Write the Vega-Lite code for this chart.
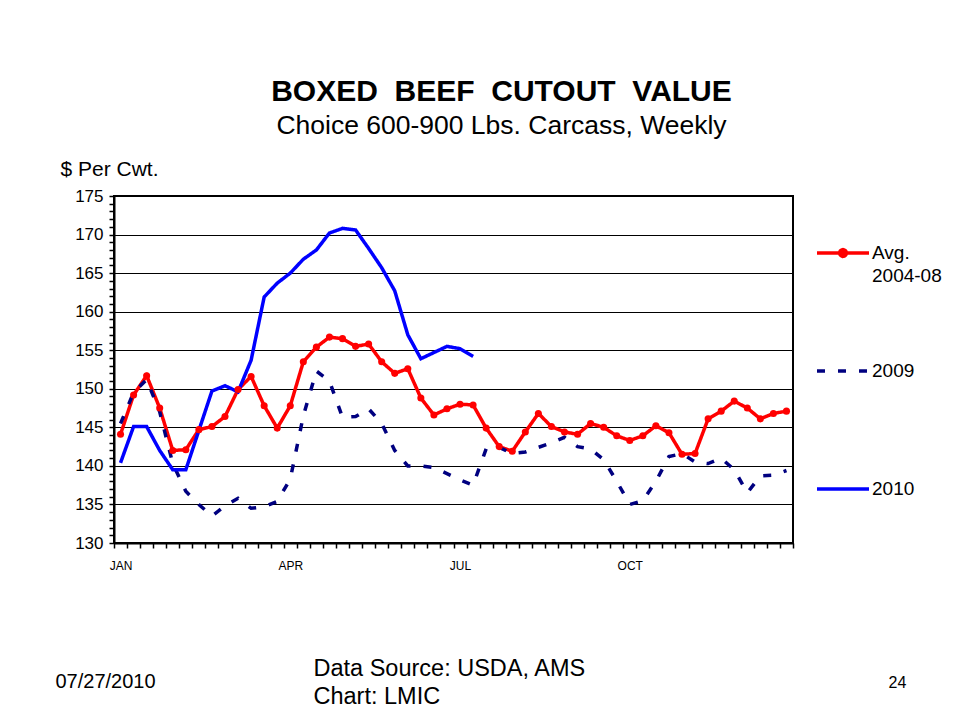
{
  "$schema": "https://vega.github.io/schema/vega-lite/v6.json",
  "width": 679,
  "height": 347,
  "autosize": {"type": "none"},
  "padding": {"left": 114, "top": 196, "right": 160, "bottom": 178},
  "background": "white",
  "config": {
    "view": {"stroke": "black", "strokeWidth": 2},
    "font": "Liberation Sans"
  },
  "title": {
    "text": "BOXED\u00a0 BEEF\u00a0 CUTOUT\u00a0 VALUE",
    "subtitle": "Choice 600-900 Lbs. Carcass, Weekly",
    "anchor": "middle",
    "dx": 48,
    "font": "Liberation Sans",
    "fontSize": 30,
    "fontWeight": "bold",
    "color": "black",
    "subtitleFont": "Liberation Sans",
    "subtitleFontSize": 26.5,
    "subtitleColor": "black",
    "subtitlePadding": 6,
    "offset": 19
  },
  "data": {
    "values": [
      {"series": "Avg. 2004-08", "week": 1, "value": 144.1},
      {"series": "Avg. 2004-08", "week": 2, "value": 149.2},
      {"series": "Avg. 2004-08", "week": 3, "value": 151.7},
      {"series": "Avg. 2004-08", "week": 4, "value": 147.5},
      {"series": "Avg. 2004-08", "week": 5, "value": 142.0},
      {"series": "Avg. 2004-08", "week": 6, "value": 142.1},
      {"series": "Avg. 2004-08", "week": 7, "value": 144.7},
      {"series": "Avg. 2004-08", "week": 8, "value": 145.1},
      {"series": "Avg. 2004-08", "week": 9, "value": 146.4},
      {"series": "Avg. 2004-08", "week": 10, "value": 149.9},
      {"series": "Avg. 2004-08", "week": 11, "value": 151.6},
      {"series": "Avg. 2004-08", "week": 12, "value": 147.8},
      {"series": "Avg. 2004-08", "week": 13, "value": 144.9},
      {"series": "Avg. 2004-08", "week": 14, "value": 147.8},
      {"series": "Avg. 2004-08", "week": 15, "value": 153.5},
      {"series": "Avg. 2004-08", "week": 16, "value": 155.4},
      {"series": "Avg. 2004-08", "week": 17, "value": 156.7},
      {"series": "Avg. 2004-08", "week": 18, "value": 156.5},
      {"series": "Avg. 2004-08", "week": 19, "value": 155.5},
      {"series": "Avg. 2004-08", "week": 20, "value": 155.8},
      {"series": "Avg. 2004-08", "week": 21, "value": 153.5},
      {"series": "Avg. 2004-08", "week": 22, "value": 152.0},
      {"series": "Avg. 2004-08", "week": 23, "value": 152.6},
      {"series": "Avg. 2004-08", "week": 24, "value": 148.8},
      {"series": "Avg. 2004-08", "week": 25, "value": 146.6},
      {"series": "Avg. 2004-08", "week": 26, "value": 147.4},
      {"series": "Avg. 2004-08", "week": 27, "value": 148.0},
      {"series": "Avg. 2004-08", "week": 28, "value": 147.9},
      {"series": "Avg. 2004-08", "week": 29, "value": 144.9},
      {"series": "Avg. 2004-08", "week": 30, "value": 142.5},
      {"series": "Avg. 2004-08", "week": 31, "value": 141.9},
      {"series": "Avg. 2004-08", "week": 32, "value": 144.4},
      {"series": "Avg. 2004-08", "week": 33, "value": 146.8},
      {"series": "Avg. 2004-08", "week": 34, "value": 145.1},
      {"series": "Avg. 2004-08", "week": 35, "value": 144.4},
      {"series": "Avg. 2004-08", "week": 36, "value": 144.1},
      {"series": "Avg. 2004-08", "week": 37, "value": 145.5},
      {"series": "Avg. 2004-08", "week": 38, "value": 145.0},
      {"series": "Avg. 2004-08", "week": 39, "value": 143.9},
      {"series": "Avg. 2004-08", "week": 40, "value": 143.3},
      {"series": "Avg. 2004-08", "week": 41, "value": 143.9},
      {"series": "Avg. 2004-08", "week": 42, "value": 145.2},
      {"series": "Avg. 2004-08", "week": 43, "value": 144.3},
      {"series": "Avg. 2004-08", "week": 44, "value": 141.5},
      {"series": "Avg. 2004-08", "week": 45, "value": 141.6},
      {"series": "Avg. 2004-08", "week": 46, "value": 146.1},
      {"series": "Avg. 2004-08", "week": 47, "value": 147.1},
      {"series": "Avg. 2004-08", "week": 48, "value": 148.4},
      {"series": "Avg. 2004-08", "week": 49, "value": 147.5},
      {"series": "Avg. 2004-08", "week": 50, "value": 146.1},
      {"series": "Avg. 2004-08", "week": 51, "value": 146.8},
      {"series": "Avg. 2004-08", "week": 52, "value": 147.1},
      {"series": "2009", "week": 1, "value": 145.5},
      {"series": "2009", "week": 2, "value": 149.5},
      {"series": "2009", "week": 3, "value": 151.2},
      {"series": "2009", "week": 4, "value": 147.0},
      {"series": "2009", "week": 5, "value": 140.3},
      {"series": "2009", "week": 6, "value": 136.7},
      {"series": "2009", "week": 7, "value": 135.0},
      {"series": "2009", "week": 8, "value": 133.5},
      {"series": "2009", "week": 9, "value": 134.8},
      {"series": "2009", "week": 10, "value": 135.8},
      {"series": "2009", "week": 11, "value": 134.5},
      {"series": "2009", "week": 12, "value": 134.7},
      {"series": "2009", "week": 13, "value": 135.4},
      {"series": "2009", "week": 14, "value": 138.3},
      {"series": "2009", "week": 15, "value": 146.5},
      {"series": "2009", "week": 16, "value": 152.3},
      {"series": "2009", "week": 17, "value": 151.0},
      {"series": "2009", "week": 18, "value": 146.3},
      {"series": "2009", "week": 19, "value": 146.4},
      {"series": "2009", "week": 20, "value": 147.4},
      {"series": "2009", "week": 21, "value": 145.5},
      {"series": "2009", "week": 22, "value": 142.0},
      {"series": "2009", "week": 23, "value": 140.0},
      {"series": "2009", "week": 24, "value": 140.0},
      {"series": "2009", "week": 25, "value": 139.8},
      {"series": "2009", "week": 26, "value": 139.0},
      {"series": "2009", "week": 27, "value": 138.2},
      {"series": "2009", "week": 28, "value": 137.5},
      {"series": "2009", "week": 29, "value": 142.2},
      {"series": "2009", "week": 30, "value": 142.4},
      {"series": "2009", "week": 31, "value": 141.6},
      {"series": "2009", "week": 32, "value": 141.8},
      {"series": "2009", "week": 33, "value": 142.4},
      {"series": "2009", "week": 34, "value": 143.0},
      {"series": "2009", "week": 35, "value": 143.7},
      {"series": "2009", "week": 36, "value": 142.5},
      {"series": "2009", "week": 37, "value": 142.2},
      {"series": "2009", "week": 38, "value": 140.8},
      {"series": "2009", "week": 39, "value": 138.0},
      {"series": "2009", "week": 40, "value": 135.0},
      {"series": "2009", "week": 41, "value": 135.5},
      {"series": "2009", "week": 42, "value": 138.0},
      {"series": "2009", "week": 43, "value": 141.2},
      {"series": "2009", "week": 44, "value": 141.6},
      {"series": "2009", "week": 45, "value": 140.5},
      {"series": "2009", "week": 46, "value": 140.3},
      {"series": "2009", "week": 47, "value": 141.0},
      {"series": "2009", "week": 48, "value": 139.5},
      {"series": "2009", "week": 49, "value": 136.5},
      {"series": "2009", "week": 50, "value": 138.7},
      {"series": "2009", "week": 51, "value": 138.8},
      {"series": "2009", "week": 52, "value": 139.4},
      {"series": "2010", "week": 1, "value": 140.4},
      {"series": "2010", "week": 2, "value": 145.1},
      {"series": "2010", "week": 3, "value": 145.1},
      {"series": "2010", "week": 4, "value": 142.0},
      {"series": "2010", "week": 5, "value": 139.5},
      {"series": "2010", "week": 6, "value": 139.5},
      {"series": "2010", "week": 7, "value": 144.6},
      {"series": "2010", "week": 8, "value": 149.7},
      {"series": "2010", "week": 9, "value": 150.4},
      {"series": "2010", "week": 10, "value": 149.6},
      {"series": "2010", "week": 11, "value": 153.7},
      {"series": "2010", "week": 12, "value": 161.9},
      {"series": "2010", "week": 13, "value": 163.7},
      {"series": "2010", "week": 14, "value": 165.0},
      {"series": "2010", "week": 15, "value": 166.8},
      {"series": "2010", "week": 16, "value": 168.0},
      {"series": "2010", "week": 17, "value": 170.2},
      {"series": "2010", "week": 18, "value": 170.8},
      {"series": "2010", "week": 19, "value": 170.6},
      {"series": "2010", "week": 20, "value": 168.2},
      {"series": "2010", "week": 21, "value": 165.7},
      {"series": "2010", "week": 22, "value": 162.7},
      {"series": "2010", "week": 23, "value": 157.0},
      {"series": "2010", "week": 24, "value": 153.9},
      {"series": "2010", "week": 25, "value": 154.7},
      {"series": "2010", "week": 26, "value": 155.5},
      {"series": "2010", "week": 27, "value": 155.2},
      {"series": "2010", "week": 28, "value": 154.2}
    ]
  },
  "resolve": {"axis": {"x": "independent", "y": "independent"}},
  "layer": [
    {
      "mark": {"type": "line", "strokeWidth": 3.5},
      "encoding": {
        "x": {
          "field": "week", "type": "quantitative",
          "scale": {"domain": [0.5, 52.5], "nice": false, "zero": false},
          "axis": {
            "orient": "bottom",
            "values": [0.5,1.5,2.5,3.5,4.5,5.5,6.5,7.5,8.5,9.5,10.5,11.5,12.5,13.5,14.5,15.5,16.5,17.5,18.5,19.5,20.5,21.5,22.5,23.5,24.5,25.5,26.5,27.5,28.5,29.5,30.5,31.5,32.5,33.5,34.5,35.5,36.5,37.5,38.5,39.5,40.5,41.5,42.5,43.5,44.5,45.5,46.5,47.5,48.5,49.5,50.5,51.5,52.5],
            "labelExpr": "datum.value === 0.5 ? 'JAN' : datum.value === 13.5 ? 'APR' : datum.value === 26.5 ? 'JUL' : datum.value === 39.5 ? 'OCT' : ''",
            "labelOffset": 6.5,
            "labelOverlap": false,
            "labelFlush": false,
            "labelFont": "Liberation Sans",
            "labelFontSize": 12,
            "labelColor": "black",
            "labelPadding": 12,
            "labelBaseline": "top",
            "grid": false,
            "domainColor": "black",
            "domainWidth": 2,
            "tickColor": "black",
            "tickSize": 5,
            "tickWidth": 1.5,
            "title": ["Data Source: USDA, AMS", "Chart: LMIC"],
            "titleX": 199,
            "titleY": 132,
            "titleAlign": "left",
            "titleAnchor": "start",
            "titleBaseline": "alphabetic",
            "titleFont": "Liberation Sans",
            "titleFontSize": 23.5,
            "titleFontWeight": "normal",
            "titleColor": "black",
            "titleLineHeight": 28
          }
        },
        "y": {
          "field": "value", "type": "quantitative",
          "scale": {"domain": [130, 175], "nice": false, "zero": false},
          "axis": {
            "orient": "left",
            "values": [130,131,132,133,134,135,136,137,138,139,140,141,142,143,144,145,146,147,148,149,150,151,152,153,154,155,156,157,158,159,160,161,162,163,164,165,166,167,168,169,170,171,172,173,174,175],
            "labelExpr": "datum.value % 5 === 0 ? datum.label : ''",
            "labelOverlap": false,
            "labelFlush": false,
            "labelFont": "Liberation Sans",
            "labelFontSize": 17,
            "labelColor": "black",
            "labelPadding": 6,
            "grid": true,
            "gridColor": "black",
            "gridWidth": 1,
            "gridOpacity": {"condition": {"test": "datum.value % 5 === 0", "value": 1}, "value": 0},
            "domainColor": "black",
            "domainWidth": 2,
            "tickColor": "black",
            "tickSize": 5,
            "tickWidth": 1.5,
            "title": "$ Per Cwt.",
            "titleAngle": 0,
            "titleX": -54,
            "titleY": -21,
            "titleAlign": "left",
            "titleAnchor": "start",
            "titleBaseline": "alphabetic",
            "titleFont": "Liberation Sans",
            "titleFontSize": 21,
            "titleFontWeight": "normal",
            "titleColor": "black"
          }
        },
        "color": {
          "field": "series", "type": "nominal",
          "scale": {"domain": ["Avg. 2004-08", "2009", "2010"], "range": ["#FF0000", "#000080", "#0000FF"]},
          "legend": {
            "title": null,
            "orient": "none",
            "legendX": 701,
            "legendY": 29,
            "direction": "vertical",
            "symbolType": "stroke",
            "symbolSize": 2704,
            "symbolStrokeWidth": 3.5,
            "labelFont": "Liberation Sans",
            "labelFontSize": 19,
            "labelColor": "black",
            "labelOffset": 1,
            "labelLimit": 300,
            "labelExpr": "datum.value === 'Avg. 2004-08' ? ['Avg.', '2004-08'] : datum.label",
            "rowPadding": 57,
            "gridAlign": "all",
            "padding": 0,
            "encode": {
              "symbols": {"update": {
                "shape": {"signal": "datum.value === 'Avg. 2004-08' ? 'M-1,0H1M0.13,0A0.13,0.13 0 1,1 -0.13,0A0.13,0.13 0 1,1 0.13,0' : 'stroke'"},
                "fill": {"signal": "datum.value === 'Avg. 2004-08' ? '#FF0000' : 'transparent'"}
              }},
              "labels": {"update": {
                "lineHeight": {"value": 23}
              }}
            }
          }
        },
        "strokeDash": {
          "field": "series", "type": "nominal",
          "scale": {"domain": ["Avg. 2004-08", "2009", "2010"], "range": [[1, 0], [8, 13], [1, 0]]},
          "legend": {
            "title": null,
            "orient": "none",
            "legendX": 701,
            "legendY": 29,
            "direction": "vertical",
            "symbolType": "stroke",
            "symbolSize": 2704,
            "symbolStrokeWidth": 3.5,
            "labelFont": "Liberation Sans",
            "labelFontSize": 19,
            "labelColor": "black",
            "labelOffset": 1,
            "labelLimit": 300,
            "labelExpr": "datum.value === 'Avg. 2004-08' ? ['Avg.', '2004-08'] : datum.label",
            "rowPadding": 57,
            "gridAlign": "all",
            "padding": 0,
            "encode": {
              "symbols": {"update": {
                "shape": {"signal": "datum.value === 'Avg. 2004-08' ? 'M-1,0H1M0.13,0A0.13,0.13 0 1,1 -0.13,0A0.13,0.13 0 1,1 0.13,0' : 'stroke'"},
                "fill": {"signal": "datum.value === 'Avg. 2004-08' ? '#FF0000' : 'transparent'"}
              }},
              "labels": {"update": {
                "lineHeight": {"value": 23}
              }}
            }
          }
        }
      }
    },
    {
      "transform": [{"filter": "datum.series === 'Avg. 2004-08'"}],
      "mark": {"type": "point", "filled": true, "size": 50, "color": "#FF0000", "opacity": 1},
      "encoding": {
        "x": {"field": "week", "type": "quantitative", "axis": null},
        "y": {"field": "value", "type": "quantitative", "axis": null}
      }
    },
    {
      "transform": [{"filter": "datum.series === '2010'"}],
      "mark": {"type": "point", "opacity": 0},
      "encoding": {
        "x": {
          "field": "week", "type": "quantitative",
          "axis": {
            "orient": "bottom", "domain": false, "ticks": false, "labels": false, "grid": false,
            "title": "07/27/2010", "titleX": -59, "titleY": 144,
            "titleAlign": "left", "titleAnchor": "start", "titleBaseline": "alphabetic",
            "titleFont": "Liberation Sans", "titleFontSize": 20, "titleFontWeight": "normal", "titleColor": "black"
          }
        },
        "y": {
          "field": "value", "type": "quantitative",
          "axis": {
            "orient": "right", "domain": false, "ticks": false, "labels": false, "grid": false,
            "title": "24", "titleAngle": 0, "titleX": 95, "titleY": 491,
            "titleAlign": "left", "titleAnchor": "start", "titleBaseline": "alphabetic",
            "titleFont": "Liberation Sans", "titleFontSize": 16, "titleFontWeight": "normal", "titleColor": "black"
          }
        }
      }
    }
  ]
}
